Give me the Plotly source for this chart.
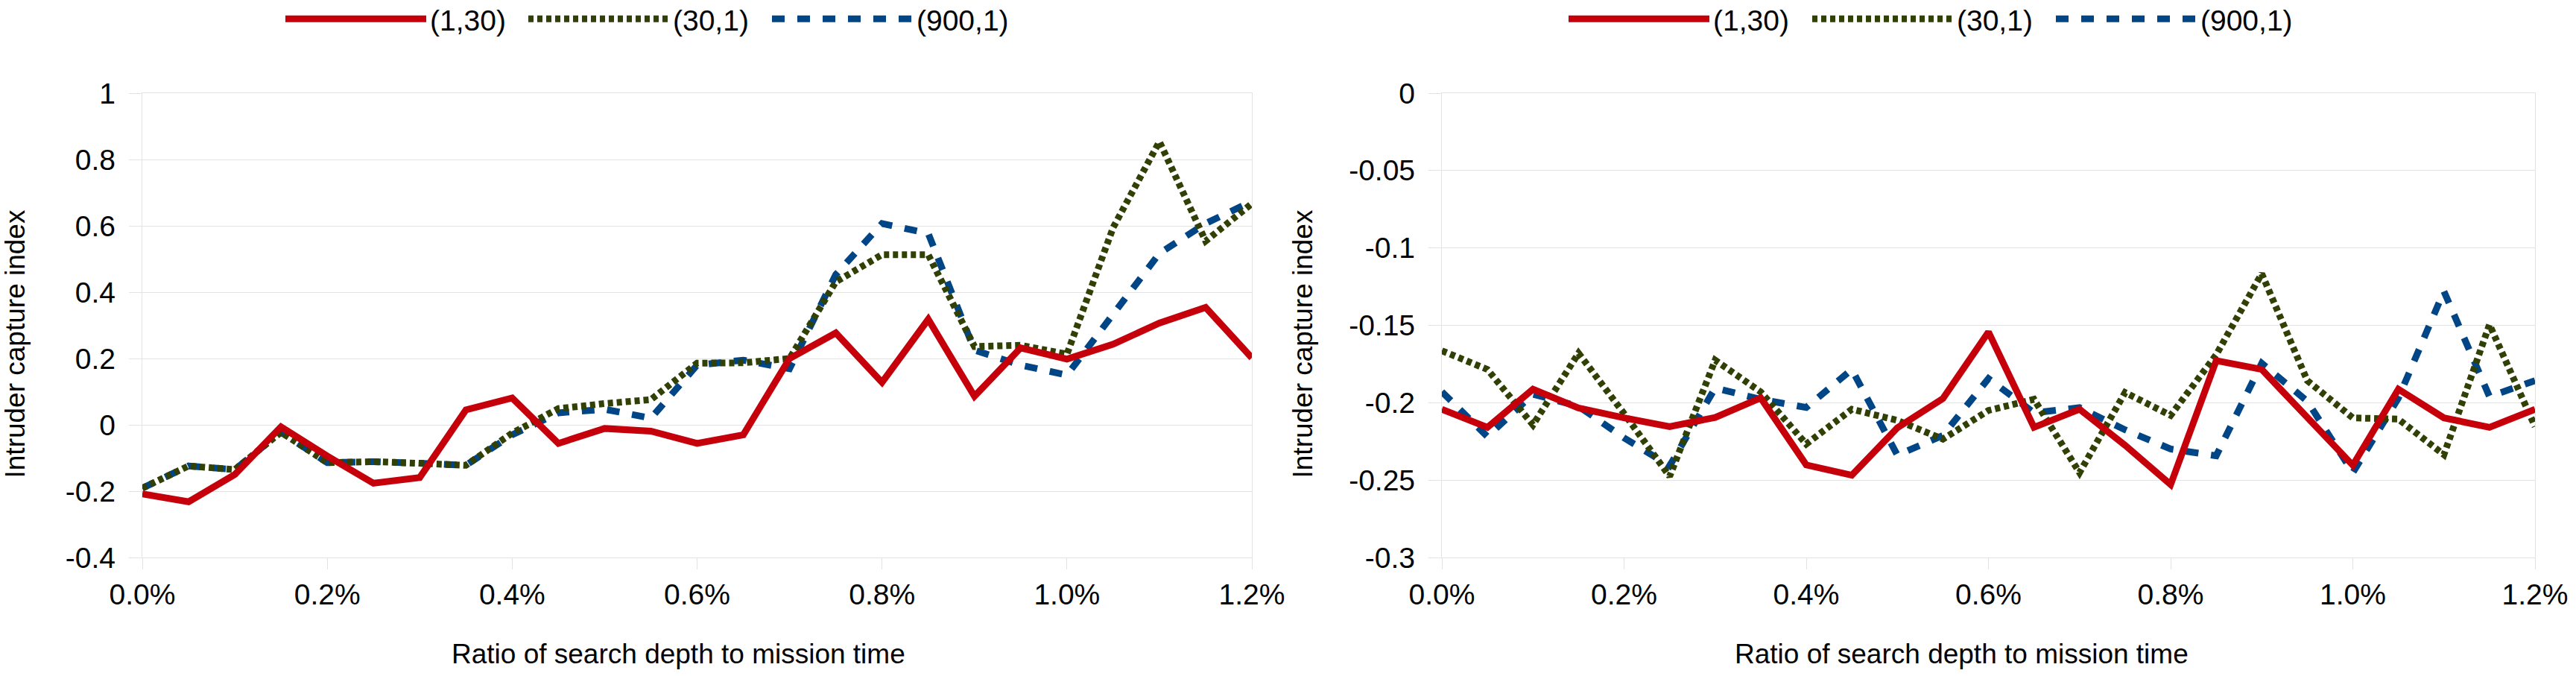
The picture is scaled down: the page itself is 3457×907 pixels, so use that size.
import plotly.graph_objects as go

# ---------------- data ----------------
x_pct = [0.0, 0.05, 0.1, 0.15, 0.2, 0.25, 0.3, 0.35, 0.4, 0.45, 0.5, 0.55, 0.6,
         0.65, 0.7, 0.75, 0.8, 0.85, 0.9, 0.95, 1.0, 1.05, 1.1, 1.15, 1.2]

series_names = ["(1,30)", "(30,1)", "(900,1)"]

left_1_30 = [-0.208, -0.232, -0.150, -0.006, -0.094, -0.176, -0.159, 0.045, 0.081,
             -0.056, -0.011, -0.019, -0.056, -0.030, 0.200, 0.277, 0.128, 0.318,
             0.086, 0.232, 0.198, 0.243, 0.307, 0.354, 0.202]
left_30_1 = [-0.191, -0.124, -0.135, -0.022, -0.114, -0.111, -0.116, -0.122, -0.025,
             0.049, 0.064, 0.076, 0.186, 0.187, 0.200, 0.431, 0.513, 0.513,
             0.236, 0.240, 0.213, 0.595, 0.854, 0.554, 0.667]
left_900_1 = [-0.191, -0.124, -0.135, -0.022, -0.114, -0.111, -0.116, -0.122, -0.030,
              0.036, 0.047, 0.020, 0.180, 0.195, 0.169, 0.453, 0.607, 0.577,
              0.225, 0.180, 0.150, 0.330, 0.517, 0.607, 0.674]

right_1_30 = [-0.2042, -0.2159, -0.1913, -0.2034, -0.2098, -0.2154, -0.2095, -0.1969,
              -0.2402, -0.2468, -0.2162, -0.1973, -0.1543, -0.2159, -0.2042, -0.2275,
              -0.2529, -0.1728, -0.1785, -0.2095, -0.2404, -0.1913, -0.2098, -0.2159,
              -0.2042]
right_30_1 = [-0.1664, -0.1785, -0.2143, -0.1680, -0.2070, -0.2476, -0.1725, -0.1930,
              -0.2267, -0.2042, -0.2114, -0.2235, -0.2050, -0.1978, -0.2452, -0.1934,
              -0.2082, -0.1690, -0.1166, -0.1857, -0.2098, -0.2106, -0.2336, -0.1495,
              -0.2154]
right_900_1 = [-0.1929, -0.2219, -0.1945, -0.2023, -0.2227, -0.2408, -0.1905, -0.1978,
               -0.2031, -0.1785, -0.2339, -0.2211, -0.1844, -0.2065, -0.2032, -0.2175,
               -0.2299, -0.2343, -0.1745, -0.1990, -0.2452, -0.1970, -0.1280, -0.1960,
               -0.1857]

x_tick_vals = [0.0, 0.2, 0.4, 0.6, 0.8, 1.0, 1.2]
x_tick_text = ["0.0%", "0.2%", "0.4%", "0.6%", "0.8%", "1.0%", "1.2%"]
left_y_vals = [-0.4, -0.2, 0, 0.2, 0.4, 0.6, 0.8, 1]
left_y_text = ["-0.4", "-0.2", "0", "0.2", "0.4", "0.6", "0.8", "1"]
right_y_vals = [-0.3, -0.25, -0.2, -0.15, -0.1, -0.05, 0]
right_y_text = ["-0.3", "-0.25", "-0.2", "-0.15", "-0.1", "-0.05", "0"]

x_title = "Ratio of search depth to mission time"
y_title = "Intruder capture index"

# ---------------- styling ----------------
W, H = 3457, 907
FONT = "Liberation Sans"
GRID = "#e3e3e3"
colors = {"(1,30)": "#c5000b", "(30,1)": "#314004", "(900,1)": "#004586"}
dashes = {"(1,30)": "solid", "(30,1)": "7px,5px", "(900,1)": "17px,17px"}
widths = {"(1,30)": 9, "(30,1)": 9, "(900,1)": 9}

# one single-item legend per series and panel (left edge of sample line, in px)
legend_left_px = {
    ("x", "(1,30)"): 383, ("x", "(30,1)"): 709, ("x", "(900,1)"): 1036,
    ("x2", "(1,30)"): 2105, ("x2", "(30,1)"): 2432, ("x2", "(900,1)"): 2759,
}

fig = go.Figure()

panels = [
    ("x", "y", {"(1,30)": left_1_30, "(30,1)": left_30_1, "(900,1)": left_900_1}),
    ("x2", "y2", {"(1,30)": right_1_30, "(30,1)": right_30_1, "(900,1)": right_900_1}),
]

def px_x(p):
    return p / W

def px_y(p):
    return 1 - p / H

legend_ids = {}
k = 0
for xa, ya, data in panels:
    for name in series_names:
        k += 1
        legend_ids[(xa, name)] = "legend" if k == 1 else "legend%d" % k

# draw order: blue bottom, green middle, red on top
for xa, ya, data in panels:
    for name in ["(900,1)", "(30,1)", "(1,30)"]:
        fig.add_trace(go.Scatter(
            x=x_pct, y=data[name], name=name, mode="lines",
            xaxis=xa, yaxis=ya, legend=legend_ids[(xa, name)], showlegend=True,
            line=dict(color=colors[name], width=widths[name], dash=dashes[name]),
            hoverinfo="x+y+name",
        ))

y_dom = [px_y(748), px_y(125)]

axis_common = dict(
    showline=True, mirror=True, linecolor=GRID, linewidth=1.3,
    zeroline=False, ticks="outside", tickcolor=GRID, tickwidth=1.3,
    tickfont=dict(family=FONT, size=39, color="black"),
)

legend_common = dict(orientation="h", xanchor="left", yanchor="middle",
                     y=px_y(25.5), itemwidth=189, visible=True,
                     font=dict(family=FONT, size=39, color="black"),
                     bgcolor="rgba(0,0,0,0)", borderwidth=0)

layout_legends = {}
for (xa, name), lid in legend_ids.items():
    layout_legends[lid] = dict(x=px_x(legend_left_px[(xa, name)] - 5), **legend_common)

fig.update_layout(
    width=W, height=H,
    showlegend=True,
    margin=dict(l=0, r=0, t=0, b=0, autoexpand=False),
    paper_bgcolor="white", plot_bgcolor="white",
    font=dict(family=FONT, color="black"),
    xaxis=dict(domain=[px_x(191), px_x(1680)], range=[0, 1.2], anchor="y",
               tickvals=x_tick_vals, ticktext=x_tick_text, showgrid=False,
               ticklen=15, **axis_common),
    yaxis=dict(domain=y_dom, range=[-0.4, 1], anchor="x",
               tickvals=left_y_vals, ticktext=left_y_text, showgrid=True,
               gridcolor=GRID, gridwidth=1.3, ticklen=17, ticklabelstandoff=10,
               **axis_common),
    xaxis2=dict(domain=[px_x(1935), px_x(3402)], range=[0, 1.2], anchor="y2",
                tickvals=x_tick_vals, ticktext=x_tick_text, showgrid=False,
                ticklen=15, **axis_common),
    yaxis2=dict(domain=y_dom, range=[-0.3, 0], anchor="x2",
                tickvals=right_y_vals, ticktext=right_y_text, showgrid=True,
                gridcolor=GRID, gridwidth=1.3, ticklen=17, ticklabelstandoff=10,
                **axis_common),
    **layout_legends,
)

ann_font = dict(family=FONT, size=37, color="black")
for cx in (910, 2632):
    fig.add_annotation(text=x_title, x=px_x(cx), y=px_y(877), xref="paper", yref="paper",
                       xanchor="center", yanchor="middle", showarrow=False, font=ann_font)
for cx in (20, 1748):
    fig.add_annotation(text=y_title, x=px_x(cx), y=px_y(461.5), xref="paper", yref="paper",
                       xanchor="center", yanchor="middle", textangle=-90, showarrow=False,
                       font=ann_font)

fig.write_html("out.html", config={"displayModeBar": False},
               post_script="document.body.style.margin='0';")
